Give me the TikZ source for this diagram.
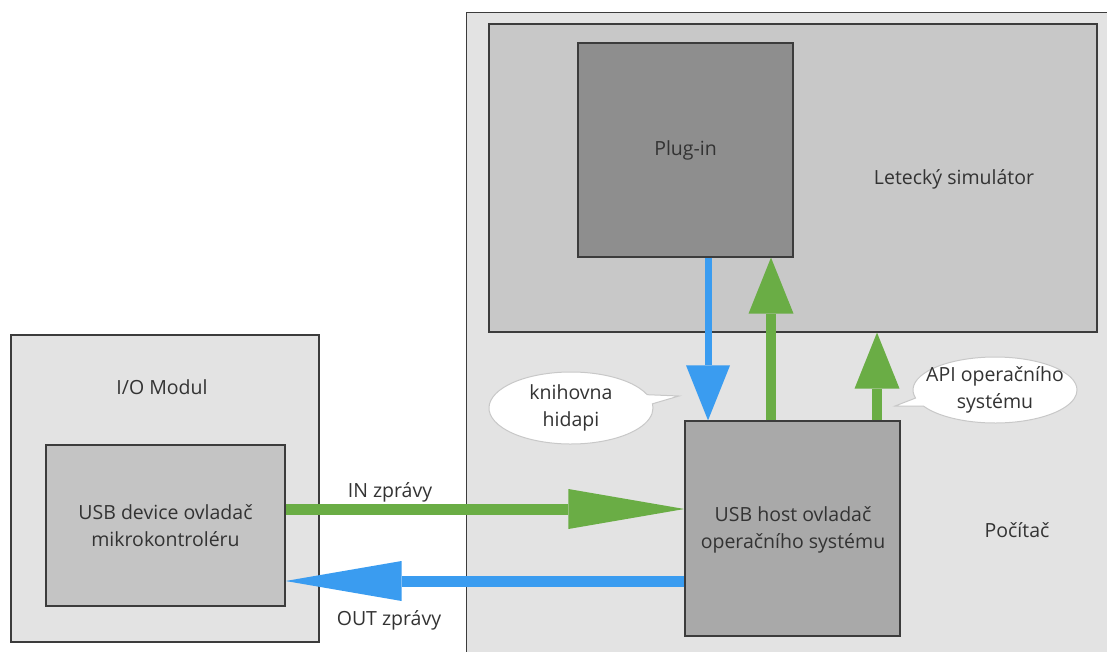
\documentclass[tikz,border=0pt]{standalone}
\usepackage{fontspec}
\setmainfont{Open Sans}
\usetikzlibrary{arrows.meta,shapes.callouts,shapes.geometric}
\definecolor{bglight}{HTML}{E3E3E3}
\definecolor{simgray}{HTML}{C8C8C8}
\definecolor{devgray}{HTML}{C4C4C4}
\definecolor{pluggray}{HTML}{8E8E8E}
\definecolor{hostgray}{HTML}{A9A9A9}
\definecolor{edgegray}{HTML}{3C3C3C}
\definecolor{txtgray}{HTML}{333333}
\definecolor{arrgreen}{HTML}{6AAD45}
\definecolor{arrblue}{HTML}{3A9CF0}
\definecolor{calloutedge}{HTML}{C8C8C8}
\tikzset{
  box/.style={draw=edgegray, line width=1.2pt, inner sep=0pt},
  lbl/.style={text=txtgray, font=\fontsize{19.5}{27}\selectfont, align=center, inner sep=0pt},
  garrowh/.style={draw=arrgreen, line width=11pt, -{Triangle[length=116pt 0 0, width=40pt 0 0, line width=0pt]}},
  barrowh/.style={draw=arrblue, line width=11pt, -{Triangle[length=116pt 0 0, width=40pt 0 0, line width=0pt]}},
  garrowv/.style={draw=arrgreen, line width=10pt, -{Triangle[length=56pt 0 0, width=45pt 0 0, line width=0pt]}},
  barrowv/.style={draw=arrblue, line width=7pt, -{Triangle[length=55pt 0 0, width=44pt 0 0, line width=0pt]}},
  bubble/.style={ellipse callout, draw=calloutedge, fill=white, line width=1pt, inner sep=0pt},
}
\begin{document}
\begin{tikzpicture}[x=1pt,y=-1pt]
\useasboundingbox (0,0) rectangle (1107,652);
\clip (0,0) rectangle (1107,652);
\fill[white] (0,0) rectangle (1107,652);
% containers
\node[box, fill=bglight, minimum width=308pt, minimum height=307pt] (io) at (165,488.5) {};
\node[box, fill=bglight, minimum width=680pt, minimum height=680pt, anchor=north west] (comp) at (466,12) {};
\node[box, fill=simgray, minimum width=608pt, minimum height=308pt] (sim) at (793,178) {};
\node[box, fill=pluggray, minimum width=215pt, minimum height=214pt] (plug) at (685.5,150) {};
\node[box, fill=hostgray, minimum width=215pt, minimum height=215pt] (host) at (792.5,528.5) {};
\node[box, fill=devgray, minimum width=239pt, minimum height=161pt] (dev) at (165.5,525.5) {};
% labels
\node[lbl] (iolbl) at (162,387) {I/O Modul};
\node[lbl] (devlbl) at (dev.center) {USB device ovladač\\mikrokontroléru};
\node[lbl] (pluglbl) at (plug.center) {Plug-in};
\node[lbl] (simlbl) at (954,179) {Letecký simulátor};
\node[lbl] (complbl) at (1017,530) {Počítač};
\node[lbl] (hostlbl) at (793,530) {USB host ovladač\\operačního systému};
\node[lbl] (inlbl) at (390,492) {IN zprávy};
\node[lbl] (outlbl) at (389,620) {OUT zprávy};
% connectors
\coordinate (inY) at (0,509);
\coordinate (outY) at (0,581);
\coordinate (bX) at (708,0);
\coordinate (g1X) at (771,0);
\coordinate (g2X) at (877,0);
\draw[garrowh] (dev.east |- inY) -- (host.west |- inY);
\draw[barrowh] (host.west |- outY) -- (dev.east |- outY);
\draw[barrowv] (plug.south -| bX) -- (host.north -| bX);
\draw[garrowv] (host.north -| g1X) -- (plug.south -| g1X);
\draw[garrowv] (host.north -| g2X) -- (sim.south -| g2X);
% callouts
\coordinate (tipK) at (679,396);
\coordinate (tipA) at (895,406);
\node[bubble, minimum width=164pt, minimum height=72pt, callout absolute pointer={(tipK)}] (knih) at (571,408) {};
\node[lbl] (knihlbl) at (knih.center) {knihovna\\hidapi};
\node[bubble, minimum width=164pt, minimum height=66pt, callout absolute pointer={(tipA)}] (api) at (995,390) {};
\node[lbl] (apilbl) at (api.center) {API operačního\\systému};
\end{tikzpicture}
\end{document}
